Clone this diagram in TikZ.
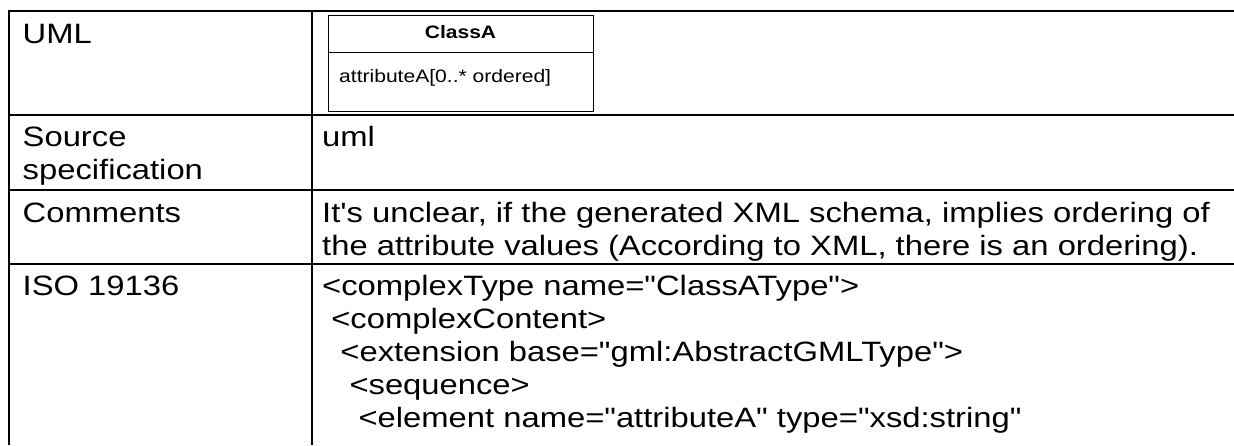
\documentclass[tikz,border=0pt]{standalone}
\usepackage{fontspec}
\setmainfont{Liberation Sans}[Ligatures=TeXOff,FakeStretch=1.17]
\begin{document}
\begin{tikzpicture}[x=1pt,y=-1pt,
  grid/.style={line width=2pt,black},
  cell/.style={anchor=base west,inner sep=0pt,font=\fontsize{28}{33}\selectfont},
  umltxt/.style={anchor=base west,inner sep=0pt,font=\fontsize{18}{21}\selectfont},
  umlbox/.style={draw=black,line width=1.2pt,fill=white}]
\useasboundingbox (0,0) rectangle (1234,445);
\fill[white] (0,0) rectangle (1234,445);
% table grid
\draw[grid] (8,11) -- (1234,11);
\draw[grid] (9,10) -- (9,445);
\draw[grid] (312,10) -- (312,445);
\draw[grid] (8,115) -- (1234,115);
\draw[grid] (8,190) -- (1234,190);
\draw[grid] (8,264) -- (1234,264);
% UML picture
\fill[white] (313,11.6) rectangle (596,114);
\node[umlbox,minimum width=265pt,minimum height=96pt,anchor=north west] (cls) at (328,15) {};
\coordinate (sepL) at (328,52);
\coordinate (sepR) at (593,52);
\draw[line width=1pt] (sepL) -- (sepR);
\node[anchor=base,inner sep=0pt,font=\fontsize{18}{21}\selectfont\bfseries] (clsname) at (460.5,38) {ClassA};
\node[umltxt] (attr) at (339,82) {attributeA[0..* ordered]};
% left column
\node[cell] (uml) at (22.5,43) {UML};
\node[cell] (src1) at (22.5,146) {Source};
\node[cell] (src2) at (22.5,179) {specification};
\node[cell] (com) at (22.5,222) {Comments};
\node[cell] (iso) at (22.5,295) {ISO 19136};
% right column
\node[cell] (umlv) at (322,146) {uml};
\node[cell] (c1) at (322,222) {It's unclear, if the generated XML schema, implies ordering of};
\node[cell] (c2) at (322,255) {the attribute values (According to XML, there is an ordering).};
\node[cell] (x1) at (322,295) {<complexType name="ClassAType">};
\node[cell] (x2) at (331.1,328) {<complexContent>};
\node[cell] (x3) at (340.2,361) {<extension base="gml:AbstractGMLType">};
\node[cell] (x4) at (349.3,394) {<sequence>};
\node[cell] (x5) at (358.4,427) {<element name="attributeA" type="xsd:string"};
\end{tikzpicture}
\end{document}
